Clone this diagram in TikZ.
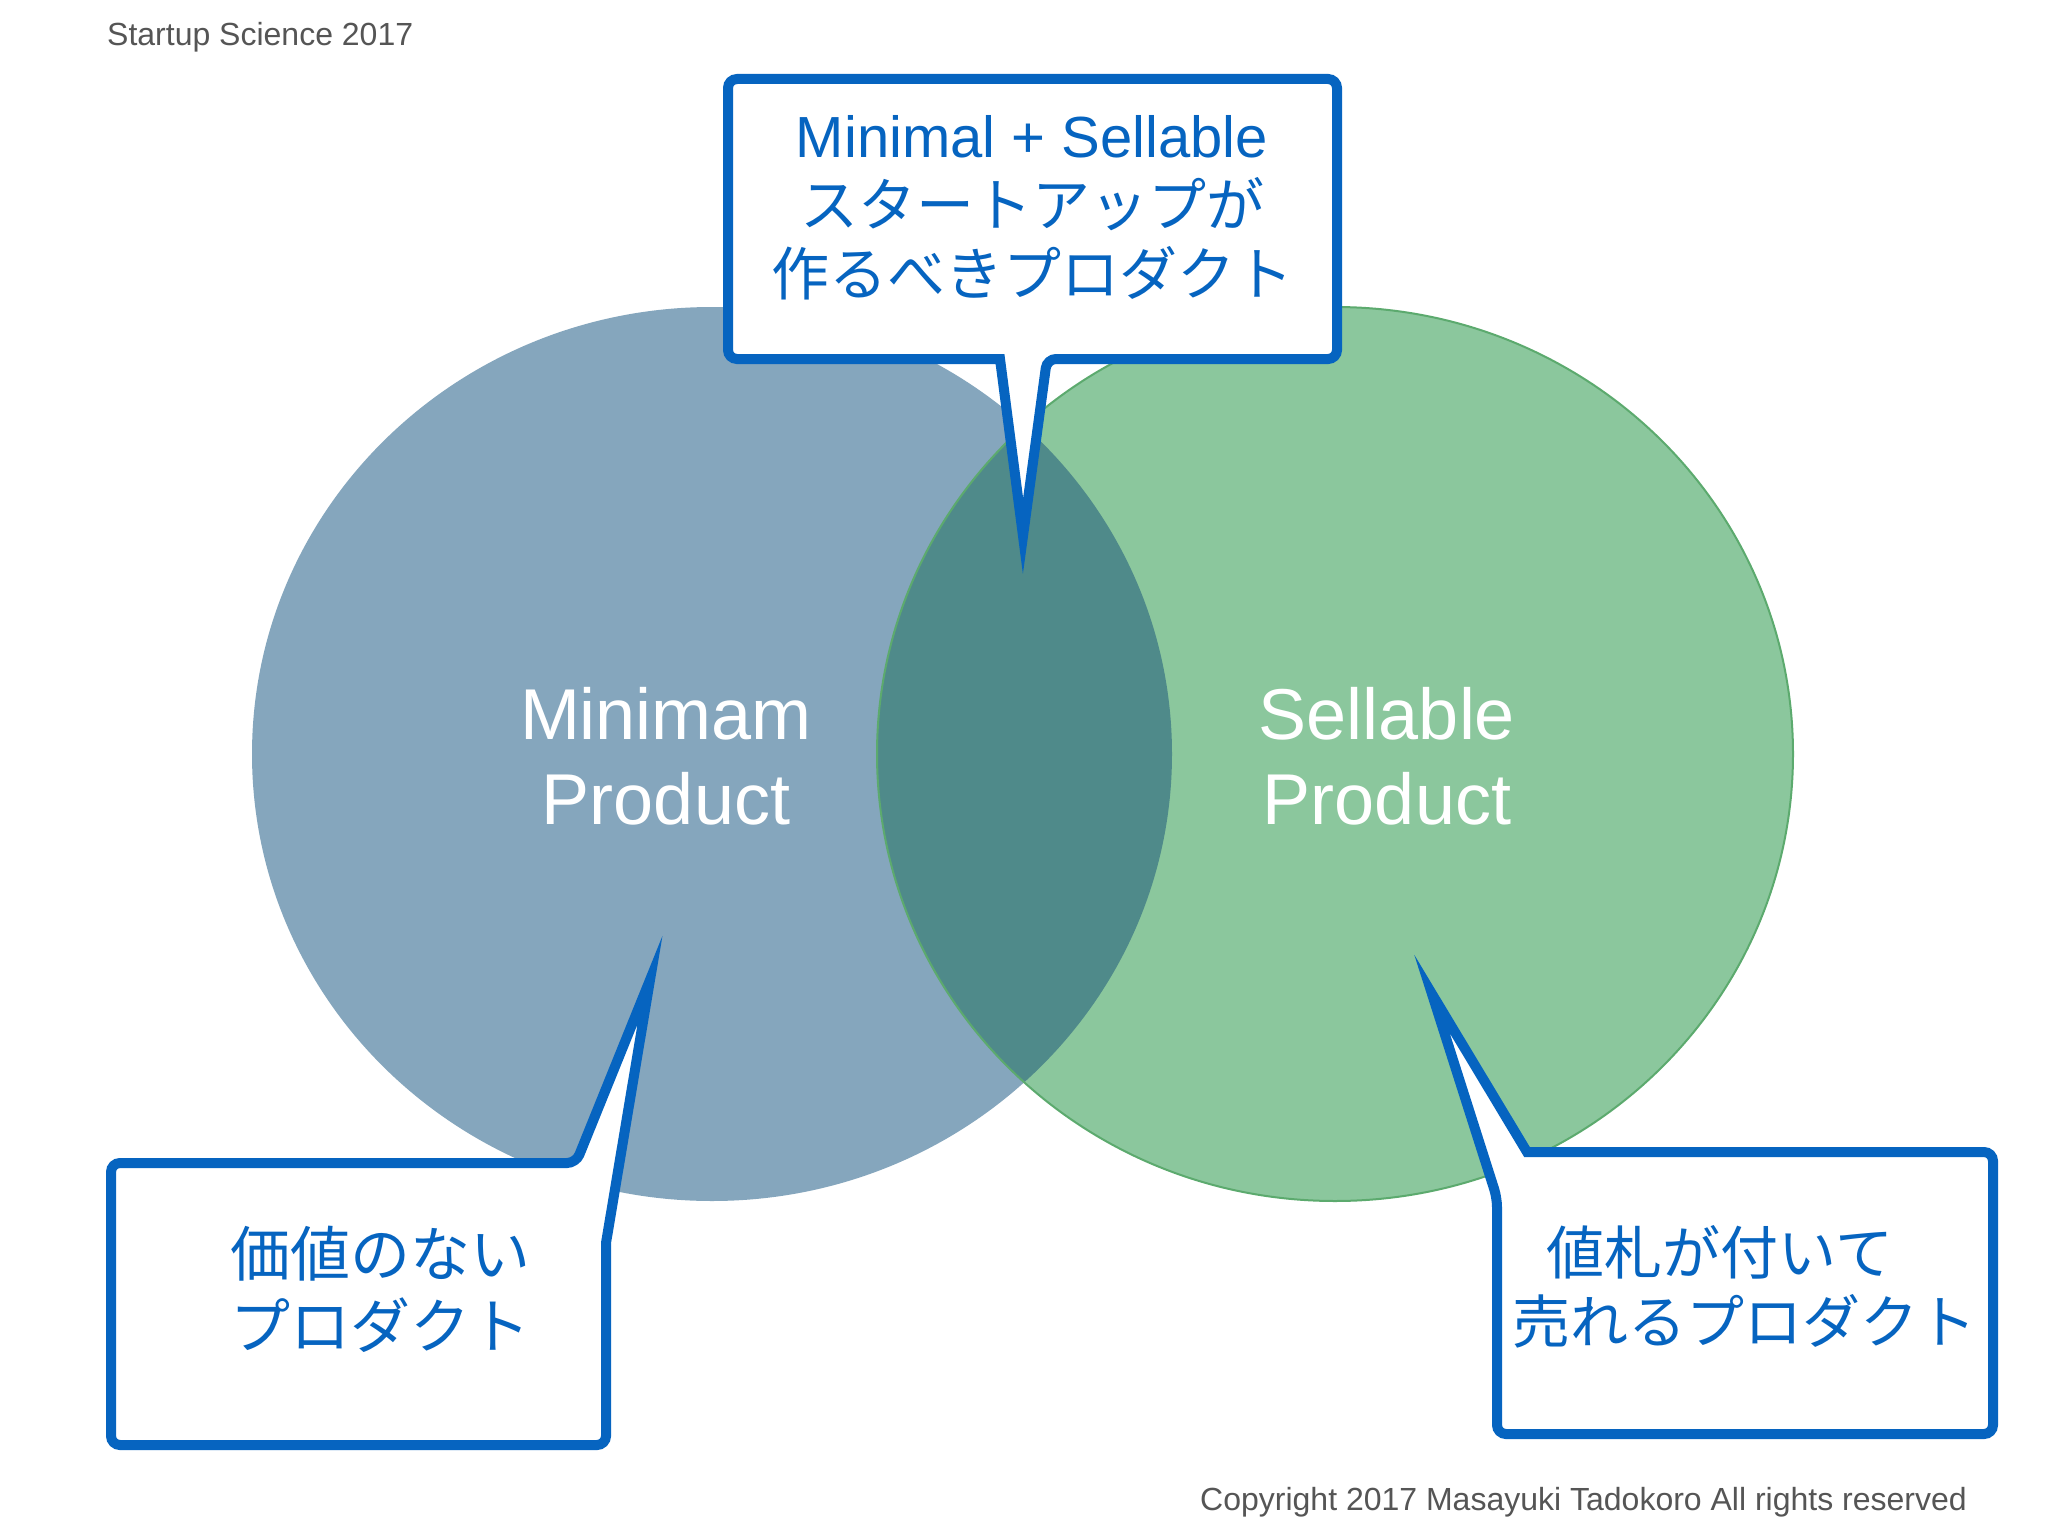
\documentclass[tikz,border=0pt]{standalone}
\usepackage{fontspec}
\setmainfont{Liberation Sans}
\newfontfamily\jp{Noto Sans CJK JP}
\definecolor{cblue}{RGB}{6,100,192}
\definecolor{circblue}{RGB}{133,166,189}
\definecolor{circgreen}{RGB}{139,199,157}
\definecolor{overlap}{RGB}{79,138,138}
\definecolor{greenline}{RGB}{92,170,110}
\definecolor{graytext}{RGB}{85,85,85}
\begin{document}
\begin{tikzpicture}[x=1pt,y=-1pt,
  callout/.style={draw=cblue, line width=10pt, fill=white, line join=miter, miter limit=30},
  calltext/.style={text=cblue, align=center, inner sep=0pt},
  circtext/.style={text=white, align=center, inner sep=0pt, font=\fontsize{72}{85}\selectfont},
  note/.style={text=graytext, inner sep=0pt, font=\fontsize{32}{38}\selectfont}]
\useasboundingbox[fill=white] (0,0) rectangle (2048,1536);

% circles
\fill[circblue] (712,754) ellipse [x radius=460pt, y radius=447pt];
\fill[circgreen] (1335,754) ellipse [x radius=458pt, y radius=447pt];
\begin{scope}
  \clip (712,754) ellipse [x radius=460pt, y radius=447pt];
  \fill[overlap] (1335,754) ellipse [x radius=458pt, y radius=447pt];
\end{scope}
\draw[greenline, line width=2pt] (1335,754) ellipse [x radius=458pt, y radius=447pt];

\node[circtext] (minimam) at (666,756) {Minimam\\Product};
\node[circtext] (sellable) at (1387,756) {Sellable\\Product};

% top callout
\draw[callout] (1032,79) [rounded corners=9pt] -- (1337,79) -- (1337,359) -- (1047,359)
  [sharp corners] -- (1023,536) -- (1000,359)
  [rounded corners=9pt] -- (728,359) -- (728,79) -- cycle;
\node[calltext, font=\fontsize{58}{69}\selectfont] (toptext) at (1032,208)
  {Minimal + Sellable\\{\jp スタートアップが}\\{\jp 作るべきプロダクト}};

% left callout
\draw[callout] (300,1163) [rounded corners=9pt] -- (576,1163)
  [sharp corners] -- (650,980) -- (606,1243)
  [rounded corners=9pt] -- (606,1445) -- (111,1445) -- (111,1163) -- cycle;
\node[calltext, font=\jp\fontsize{60}{72}\selectfont] (lefttext) at (380,1289)
  {価値のない\\プロダクト};

% right callout
\draw[callout] (1700,1152) [rounded corners=9pt] -- (1993,1152) -- (1993,1434) -- (1497,1434) -- (1497,1198)
  [sharp corners] -- (1432,994) -- (1527,1152)
  [rounded corners=9pt] -- cycle;
\node[calltext, font=\jp\fontsize{58}{69}\selectfont] (righttext) at (1744,1287)
  {値札が付いて\hspace*{48pt}\\売れるプロダクト};

% header and footer
\node[note, anchor=base west] (header) at (107,46) {Startup Science 2017};
\node[note, anchor=base east] (footer) at (1967,1510) {Copyright 2017 Masayuki Tadokoro All rights reserved};
\end{tikzpicture}
\end{document}
